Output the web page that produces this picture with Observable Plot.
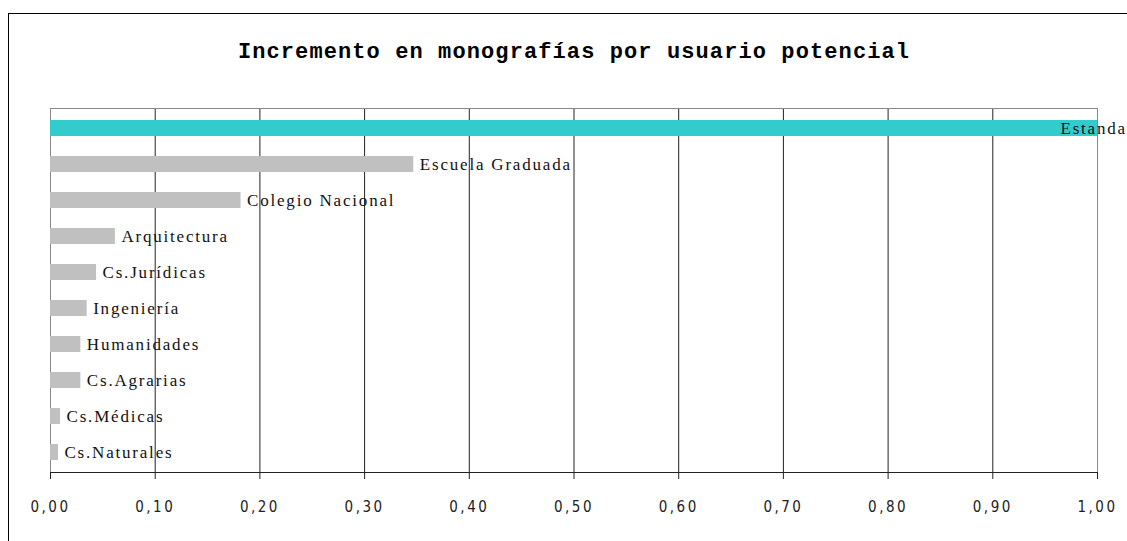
<!DOCTYPE html>
<html>
<head>
<meta charset="utf-8">
<script src="https://cdn.jsdelivr.net/npm/d3@7"></script>
<script src="https://cdn.jsdelivr.net/npm/@observablehq/plot@0.6"></script>
<style>
  html, body { margin: 0; padding: 0; background: #fff; }
  #page { position: relative; width: 1127px; height: 541px; overflow: hidden; }
  #border { position: absolute; left: 8px; top: 13px; width: 1200px; height: 600px; border-left: 1px solid #000; border-top: 1px solid #000; }
  #title { position: absolute; left: 0; top: 40px; width: 1148px; text-align: center;
           font-family: "Liberation Mono", monospace; font-weight: bold; font-size: 22px; letter-spacing: 1.1px; color: #000; }
  #chart { position: absolute; left: 0; top: 90px; }
  #chart svg { overflow: visible; }
</style>
</head>
<body>
<div id="page">
  <div id="border"></div>
  <div id="title">Incremento en monografías por usuario potencial</div>
  <div id="chart"></div>
</div>
<script>
const categories = ["Estandar", "Escuela Graduada", "Colegio Nacional", "Arquitectura", "Cs.Jurídicas", "Ingeniería", "Humanidades", "Cs.Agrarias", "Cs.Médicas", "Cs.Naturales"];
const values = [1.00, 0.347, 0.182, 0.062, 0.044, 0.035, 0.029, 0.029, 0.0096, 0.0076];
const tickValues = [0, 0.1, 0.2, 0.3, 0.4, 0.5, 0.6, 0.7, 0.8, 0.9, 1.0];
const highlight = "Estandar";

const data = categories.map((c, i) => ({cat: c, value: values[i]}));
const fmt = v => d3.format(".2f")(v).replace(".", ",");
const labelFont = {fontFamily: "'Liberation Serif', serif", fontSize: 17, textAnchor: "start", fill: "#111", clip: false};

const bottomLine = (index, scales, values, dims) => {
  const g = d3.create("svg:line")
    .attr("x1", dims.marginLeft).attr("x2", dims.width - dims.marginRight)
    .attr("y1", dims.height - dims.marginBottom + 0.5).attr("y2", dims.height - dims.marginBottom + 0.5)
    .attr("stroke", "#222");
  return g.node();
};

const chart = Plot.plot({
  width: 1127,
  height: 440,
  marginLeft: 50,
  marginRight: 30,
  marginTop: 18,
  marginBottom: 58,
  style: {background: "transparent", overflow: "visible"},
  x: {domain: [0, 1]},
  y: {domain: categories, paddingInner: 0.56, paddingOuter: 0.3, axis: null},
  marks: [
    Plot.ruleX(tickValues.filter(v => v > 0 && v < 1), {stroke: "#222", strokeWidth: 1}),
    Plot.frame({stroke: "#888"}),
    Plot.barX(data.filter(d => d.cat !== highlight), {x: "value", y: "cat", fill: "#C0C0C0"}),
    Plot.barX(data.filter(d => d.cat === highlight), {x: "value", y: "cat", fill: "#33CCCC"}),
    bottomLine,
    Plot.axisX({ticks: tickValues, tickFormat: fmt, tickSize: 7, tickPadding: 22, stroke: "#222",
      fontFamily: "'DejaVu Sans Condensed', 'DejaVu Sans', sans-serif", fontSize: 15, fill: "#222", label: null}),
    Plot.text(data.filter(d => d.cat !== highlight), {x: "value", y: "cat", text: "cat", dx: 6, ...labelFont}),
    Plot.text(data.filter(d => d.cat === highlight), {x: "value", y: "cat", text: "cat", dx: -37, ...labelFont})
  ]
});
chart.querySelectorAll("text").forEach(t => t.style.letterSpacing = "2.5px");
chart.querySelectorAll("g[aria-label='text'] text").forEach(t => t.style.letterSpacing = "1.8px");
document.getElementById("chart").appendChild(chart);
</script>
</body>
</html>
